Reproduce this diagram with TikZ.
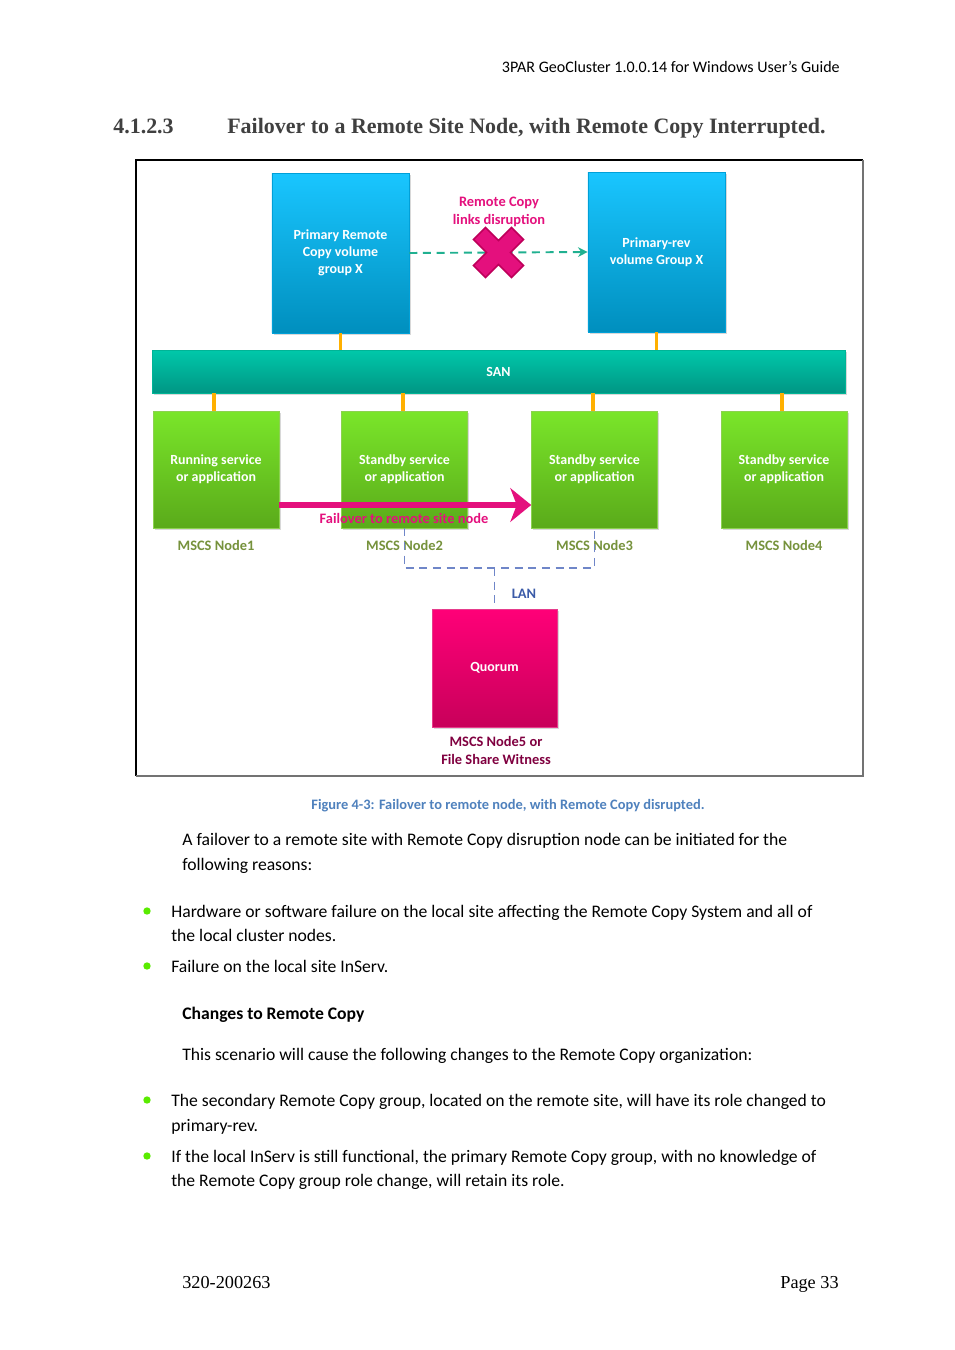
\documentclass[tikz,border=0pt]{standalone}
\usepackage{fontspec}
\setmainfont{Carlito}
\newfontfamily\headfont{Liberation Serif}
\usetikzlibrary{positioning,calc,shadows,arrows.meta}
\definecolor{rcpink}{HTML}{E4107D}
\definecolor{nodegreen}{HTML}{76923C}
\definecolor{capblue}{HTML}{4F81BD}
\definecolor{lanblue}{HTML}{6F86C8}
\definecolor{wireorange}{HTML}{FFB000}
\begin{document}
\begin{tikzpicture}[x=0.624pt, y=-0.624pt,
    boxtext/.style = {text=white, font=\fontsize{8.7}{10.7}\selectfont\bfseries, align=center},
    volbox/.style = {boxtext, top color=cyan!75!blue!90, bottom color={rgb,255:red,0;green,143;blue,190},
      draw={rgb,255:red,0;green,160;blue,216}, minimum width=85.5pt, minimum height=99.8pt,
      drop shadow={opacity=0.3, shadow xshift=1pt, shadow yshift=-1pt}},
    sanbar/.style = {boxtext, top color={rgb,255:red,0;green,200;blue,170}, bottom color={rgb,255:red,0;green,150;blue,132},
      draw={rgb,255:red,0;green,180;blue,150}, minimum width=432.4pt, minimum height=26.8pt,
      drop shadow={opacity=0.3, shadow xshift=1pt, shadow yshift=-1pt}},
    hostbox/.style = {boxtext, top color={rgb,255:red,122;green,230;blue,42}, bottom color={rgb,255:red,90;green,170;blue,26},
      draw={rgb,255:red,140;green,210;blue,80}, minimum width=78.6pt, minimum height=73pt,
      drop shadow={opacity=0.3, shadow xshift=1pt, shadow yshift=-1pt}},
    quorumbox/.style = {boxtext, top color={rgb,255:red,255;green,0;blue,120}, bottom color={rgb,255:red,200;green,0;blue,90},
      draw={rgb,255:red,230;green,60;blue,140}, minimum width=78pt, minimum height=73.6pt,
      drop shadow={opacity=0.3, shadow xshift=1pt, shadow yshift=-1pt}},
    lbl/.style = {font=\fontsize{9}{11.2}\selectfont\bfseries, align=center},
    hostlbl/.style = {lbl, text=nodegreen},
    wire/.style = {draw=wireorange, line width=2.4pt},
    lan/.style = {draw=lanblue, line width=1.2pt, dash pattern=on 5pt off 3.5pt},
    body/.style = {anchor=mid west, font=\fontsize{11}{13}\selectfont, inner sep=0pt},
    bullet/.style = {circle, fill={rgb,255:red,90;green,235;blue,0}, inner sep=0pt, minimum size=4.6pt}]
  \useasboundingbox[fill=white] (0,0) rectangle (954,1350);
  % page header and heading
  \node[anchor=mid east, font=\fontsize{10}{12}\selectfont, inner sep=0pt] (header) at (840,69)
    {3PAR GeoCluster 1.0.0.14 for Windows User’s Guide};
  \node[anchor=mid west, font=\headfont\fontsize{13.7}{16}\selectfont\bfseries, text=black!75, inner sep=0pt] (secnum) at (113,130) {4.1.2.3};
  \node[anchor=mid west, font=\headfont\fontsize{13.7}{16}\selectfont\bfseries, text=black!75, inner sep=0pt] (sectitle) at (227,130)
    {Failover to a Remote Site Node, with Remote Copy Interrupted.};
  % figure frame
  \draw[black, line width=0.7pt] (136,776) -- (136,160) -- (863,160);
  \draw[black!55, line width=0.8pt] (863,160) -- (863,776) -- (136,776);
  % volume groups
  \node[volbox] (vol1) at (340.5,253) {Primary Remote\\Copy volume\\group X};
  \node[volbox] (vol2) at (656.5,252) {Primary-rev\\volume Group X};
  \draw[draw={rgb,255:red,32;green,176;blue,144}, line width=1.2pt, dash pattern=on 5pt off 3.5pt,
    -{Stealth[length=6pt, width=6pt]}] (vol1.east) -- (vol2.west);
  \coordinate (xmark) at ($(vol1.east)!0.5!(vol2.west)$);
  \filldraw[fill=rcpink, draw={rgb,255:red,190;green,0;blue,90}, line width=1pt, shift={(xmark)}, rotate=45]
    (5.3pt,16.8pt) -- (5.3pt,5.3pt) -- (16.8pt,5.3pt) -- (16.8pt,-5.3pt) -- (5.3pt,-5.3pt) -- (5.3pt,-16.8pt)
    -- (-5.3pt,-16.8pt) -- (-5.3pt,-5.3pt) -- (-16.8pt,-5.3pt) -- (-16.8pt,5.3pt) -- (-5.3pt,5.3pt) -- (-5.3pt,16.8pt) -- cycle;
  \node[lbl, text=rcpink] (rclbl) at (499,212) {Remote Copy\\links disruption};
  % SAN and cluster nodes
  \node[sanbar] (san) at (498.5,371.5) {SAN};
  \node[hostbox] (n1) at (216,469.5) {Running service\\or application};
  \node[hostbox] (n2) at (404.5,469.5) {Standby service\\or application};
  \node[hostbox] (n3) at (594.5,469.5) {Standby service\\or application};
  \node[hostbox] (n4) at (784,469.5) {Standby service\\or application};
  \draw[wire] (vol1.south) -- (vol1.south |- san.north);
  \draw[wire] (vol2.south) -- (vol2.south |- san.north);
  \foreach \n in {n1,n2,n3,n4}
    \draw[wire] ([xshift=-1pt]san.south -| \n.north) -- ([xshift=-1pt]\n.north);
  \coordinate (lblrow) at (0,545.5);
  \node[hostlbl] (n1lbl) at (n1 |- lblrow) {MSCS Node1};
  \node[hostlbl] (n2lbl) at (n2 |- lblrow) {MSCS Node2};
  \node[hostlbl] (n3lbl) at (n3 |- lblrow) {MSCS Node3};
  \node[hostlbl] (n4lbl) at (n4 |- lblrow) {MSCS Node4};
  % failover
  \draw[draw=rcpink, line width=3.8pt, -{Stealth[length=13pt, width=21pt, inset=4pt]}]
    ($(n1.east)+(0,35.5)$) -- ($(n3.west)+(0,35.5)$);
  \node[lbl, text=rcpink] (faillbl) at (404,518.5) {Failover to remote site node};
  % quorum on the LAN
  \node[quorumbox] (quorum) at (494.5,668) {Quorum};
  \coordinate (lanbus) at (0,568);
  \draw[lan] (n2.south) -- (n2.south |- lanbus) -| (n3.south);
  \draw[lan] (quorum.north |- lanbus) -- (quorum.north);
  \node[lbl, text={rgb,255:red,59;green,91;blue,168}] (lanlbl) at (524,593.5) {LAN};
  \node[lbl, text={rgb,255:red,128;green,0;blue,64}] (qlbl) at (496,750.5) {MSCS Node5 or\\File Share Witness};
  % caption and text
  \node[lbl, text=capblue] (caption) at (508,806)
    {Figure 4-3: Failover to remote node, with Remote Copy disrupted.};
  \node[body] (p1a) at (182,842) {A failover to a remote site with Remote Copy disruption node can be initiated for the};
  \node[body] (p1b) at (182,867) {following reasons:};
  \node[bullet] (b1) at (147,911) {};
  \node[body] (b1a) at (171,914) {Hardware or software failure on the local site affecting the Remote Copy System and all of};
  \node[body] (b1b) at (171,938) {the local cluster nodes.};
  \node[bullet] (b2) at (147,966) {};
  \node[body] (b2a) at (171,969) {Failure on the local site InServ.};
  \node[body, font=\fontsize{11}{13}\selectfont\bfseries] (chg) at (182,1016) {Changes to Remote Copy};
  \node[body] (p2) at (182,1057) {This scenario will cause the following changes to the Remote Copy organization:};
  \node[bullet] (b3) at (147,1100) {};
  \node[body] (b3a) at (171,1103) {The secondary Remote Copy group, located on the remote site, will have its role changed to};
  \node[body] (b3b) at (171,1128) {primary-rev.};
  \node[bullet] (b4) at (147,1156) {};
  \node[body] (b4a) at (171,1159) {If the local InServ is still functional, the primary Remote Copy group, with no knowledge of};
  \node[body] (b4b) at (171,1183) {the Remote Copy group role change, will retain its role.};
  % footer
  \node[anchor=mid west, font=\headfont\fontsize{11.4}{13}\selectfont, inner sep=0pt] (docno) at (182,1285) {320-200263};
  \node[anchor=mid east, font=\headfont\fontsize{11.4}{13}\selectfont, inner sep=0pt] (pageno) at (839,1285) {Page 33};
\end{tikzpicture}
\end{document}
